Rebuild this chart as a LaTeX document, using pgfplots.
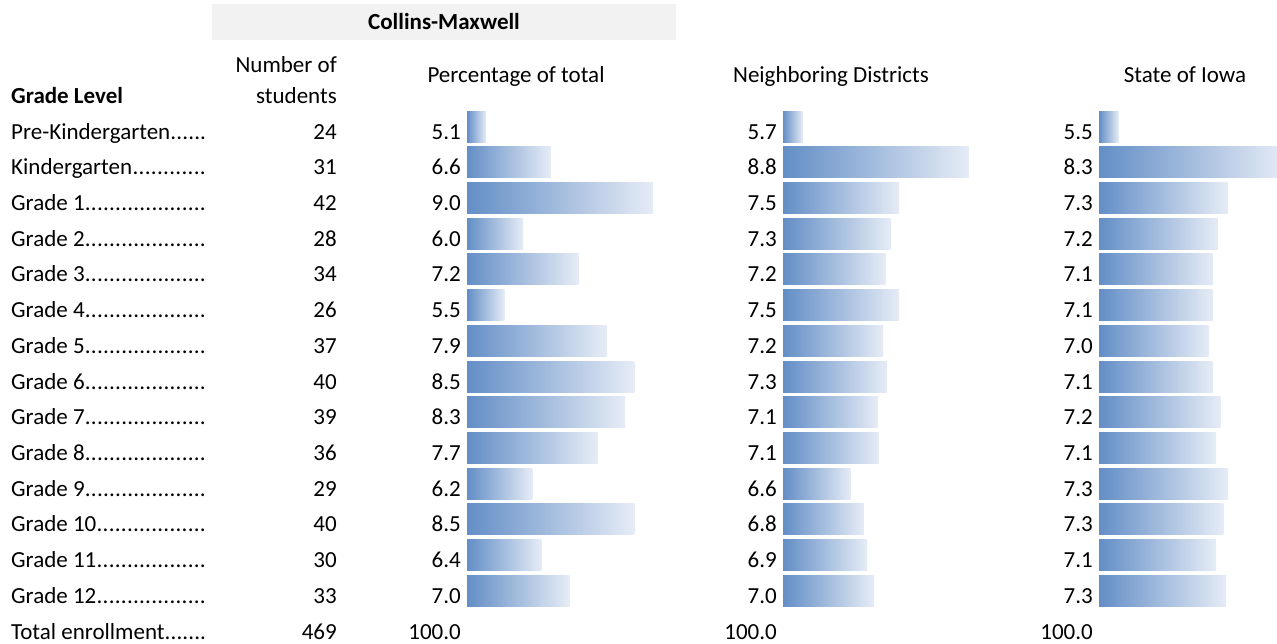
\documentclass[border=0pt]{standalone}
\usepackage{fontspec}
\setmainfont{Carlito}
\usepackage{pgfplots}
\pgfplotsset{compat=1.18}

\definecolor{barblue}{HTML}{638EC6}
\definecolor{barlight}{HTML}{E6ECF6}
\definecolor{hdrgray}{HTML}{F2F2F2}

% one row every 35.72pt, bars 31pt thick, text baseline 12.5pt below bar centre
\pgfplotsset{
  tbl/.style={
    anchor=north west, scale only axis, height=535.8pt,
    ymin=-0.5, ymax=14.5, y dir=reverse,
    xmin=0,
    axis line style={draw=none}, major tick style={draw=none},
    xtick=\empty, ytick={0,...,14},
    yticklabel style={anchor=base east, inner sep=0pt, xshift=-6pt, yshift=-12.5pt},
  },
  databar/.style={xbar, bar width=0.868, bar shift=0pt, draw=none,
    left color=barblue, right color=barlight},
}
\newcommand{\lead}[1]{\makebox[195pt][l]{#1\xleaders\hbox{.}\hfill}}
% each bar is its own plot so that every bar gets its own gradient
\newcommand{\hb}[2]{\addplot[databar] coordinates {(#1,#2)};}

\begin{document}
\fontsize{23}{28}\selectfont
\begin{tikzpicture}
\useasboundingbox (0pt,0pt) rectangle (1277pt,-644pt);

% header
\fill[hdrgray] (212pt,-4pt) rectangle (676pt,-40pt);
\node[anchor=base, inner sep=0pt, font=\bfseries] at (444pt,-29.5pt) {Collins-Maxwell};
\node[anchor=base west, inner sep=0pt, font=\bfseries] at (11pt,-104pt) {Grade Level};
\node[anchor=base east, inner sep=0pt] at (337pt,-73pt) {Number of};
\node[anchor=base east, inner sep=0pt] at (337pt,-104pt) {students};
\node[anchor=base, inner sep=0pt] at (516pt,-83pt) {Percentage of total};
\node[anchor=base, inner sep=0pt] at (831pt,-83pt) {Neighboring Districts};
\node[anchor=base, inner sep=0pt] at (1185pt,-83pt) {State of Iowa};

% grade names
\begin{axis}[tbl, at={(11pt,-108.64pt)}, width=326pt, xmax=1,
  yticklabel style={anchor=base west, xshift=6pt},
  yticklabels={\lead{Pre-Kindergarten}, \lead{Kindergarten}, \lead{Grade 1},
    \lead{Grade 2}, \lead{Grade 3}, \lead{Grade 4}, \lead{Grade 5}, \lead{Grade 6},
    \lead{Grade 7}, \lead{Grade 8}, \lead{Grade 9}, \lead{Grade 10},
    \lead{Grade 11}, \lead{Grade 12}, \lead{Total enrollment}}]
\end{axis}

% number of students
\begin{axis}[tbl, at={(11pt,-108.64pt)}, width=326pt, xmax=1,
  yticklabel pos=right,
  yticklabel style={anchor=base east, xshift=6pt},
  yticklabels={24,31,42,28,34,26,37,40,39,36,29,40,30,33,469}]
\end{axis}

% Collins-Maxwell percentage of total
\begin{axis}[tbl, at={(467pt,-108.64pt)}, width=200pt, xmax=4.598,
  x filter/.expression={x-4.680},
  yticklabels={5.1,6.6,9.0,6.0,7.2,5.5,7.9,8.5,8.3,7.7,6.2,8.5,6.4,7.0,100.0}]
\hb{5.117}{0} \hb{6.610}{1} \hb{8.955}{2} \hb{5.970}{3} \hb{7.249}{4}
\hb{5.544}{5} \hb{7.889}{6} \hb{8.529}{7} \hb{8.316}{8} \hb{7.676}{9}
\hb{6.183}{10} \hb{8.529}{11} \hb{6.397}{12} \hb{7.036}{13}
\end{axis}

% Neighboring Districts
\begin{axis}[tbl, at={(783pt,-108.64pt)}, width=200pt, xmax=3.731,
  x filter/.expression={x-5.332},
  yticklabels={5.7,8.8,7.5,7.3,7.2,7.5,7.2,7.3,7.1,7.1,6.6,6.8,6.9,7.0,100.0}]
\hb{5.70}{0} \hb{8.80}{1} \hb{7.50}{2} \hb{7.34}{3} \hb{7.24}{4}
\hb{7.50}{5} \hb{7.20}{6} \hb{7.27}{7} \hb{7.10}{8} \hb{7.12}{9}
\hb{6.60}{10} \hb{6.84}{11} \hb{6.90}{12} \hb{7.03}{13}
\end{axis}

% State of Iowa
\begin{axis}[tbl, at={(1099pt,-108.64pt)}, width=178pt, xmax=2.997,
  x filter/.expression={x-5.168},
  yticklabels={5.5,8.3,7.3,7.2,7.1,7.1,7.0,7.1,7.2,7.1,7.3,7.3,7.1,7.3,100.0}]
\hb{5.50}{0} \hb{8.30}{1} \hb{7.34}{2} \hb{7.17}{3} \hb{7.09}{4}
\hb{7.09}{5} \hb{7.02}{6} \hb{7.09}{7} \hb{7.21}{8} \hb{7.14}{9}
\hb{7.34}{10} \hb{7.26}{11} \hb{7.14}{12} \hb{7.31}{13}
\end{axis}
\end{tikzpicture}
\end{document}
